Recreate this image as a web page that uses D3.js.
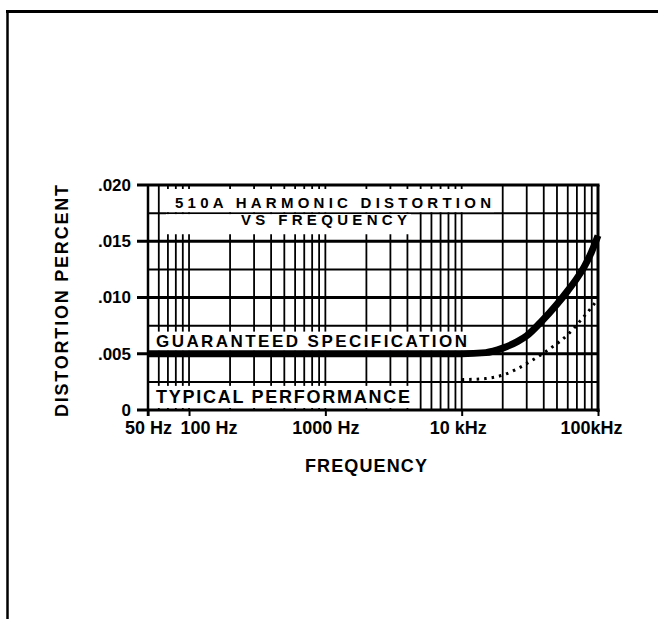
<!DOCTYPE html>
<html lang="en">
  <head>
    <meta charset="utf-8">
    <style>
      body { margin: 0; background: #fff; }
      text {
        font-family: "Liberation Sans", Arial, sans-serif;
        font-weight: bold;
        fill: #000;
      }
      .grid line { stroke: #000; }
    </style>
  </head>
  <body>
  </body>
  <script src="https://d3js.org/d3.v7.min.js"></script>

  <script>
  var width = 658;
  var height = 619;

  // values
  var freqTicks = [50, 100, 1000, 10000, 100000];
  var freqLabels = ["50 Hz", "100 Hz", "1000 Hz", "10 kHz", "100kHz"];
  var distTicks = [0, 0.005, 0.010, 0.015, 0.020];
  var distLabels = ["0", ".005", ".010", ".015", ".020"];

  var guaranteedFreq = [50, 1000, 10000, 15000, 20000, 25800, 30000, 38000, 50000, 60000, 70000, 79000, 90000, 100000];
  var guaranteedDist = [0.005, 0.005, 0.005, 0.0051, 0.0055, 0.0061, 0.0066, 0.0078, 0.0094, 0.0106, 0.0117, 0.0127, 0.0141, 0.0155];

  var typicalFreq = [10000, 15000, 20000, 25000, 30700, 45000, 60000, 75000, 92000, 100000];
  var typicalDist = [0.0027, 0.0028, 0.0031, 0.0036, 0.0042, 0.0055, 0.0067, 0.0080, 0.0093, 0.0099];

  var svg = d3.select("body")
    .append("svg")
    .attr("width", width)
    .attr("height", height);

  var x = d3.scaleLog().domain([50, 100000]).range([148, 598]);
  var y = d3.scaleLinear().domain([0, 0.020]).range([410, 185]);

  // page frame (scan border)
  svg.append("line").attr("x1", 6).attr("x2", width).attr("y1", 11.5).attr("y2", 11.5)
    .attr("stroke", "#000").attr("stroke-width", 3);
  svg.append("line").attr("x1", 7.5).attr("x2", 7.5).attr("y1", 10).attr("y2", height)
    .attr("stroke", "#000").attr("stroke-width", 2.5);

  var grid = svg.append("g").attr("class", "grid");

  // log grid: every 1..9 of each decade
  var minor = [];
  [10, 100, 1000, 10000].forEach(function(d) {
    for (var k = 1; k <= 9; k++) {
      var f = k * d;
      if (f > 50 && f < 100000) minor.push(f);
    }
  });
  grid.selectAll(".v")
    .data(minor)
    .enter().append("line")
    .attr("class", "v")
    .attr("x1", function(d) { return x(d); })
    .attr("x2", function(d) { return x(d); })
    .attr("y1", y(0.020))
    .attr("y2", y(0))
    .attr("stroke-width", 1.8);

  // horizontal grid: thin at the quarter steps, heavy at the labelled ones
  var hLines = d3.range(1, 8).map(function(i) { return i * 0.0025; });
  grid.selectAll(".h")
    .data(hLines)
    .enter().append("line")
    .attr("class", "h")
    .attr("x1", function(d, i) { return i % 2 ? 137 : 148; })
    .attr("x2", 598)
    .attr("y1", function(d) { return y(d); })
    .attr("y2", function(d) { return y(d); })
    .attr("stroke-width", function(d, i) { return i % 2 ? 3 : 2; });

  // frame of the plot
  grid.append("line").attr("x1", 137).attr("x2", 599.5).attr("y1", y(0.020)).attr("y2", y(0.020)).attr("stroke-width", 3);
  grid.append("line").attr("x1", 137).attr("x2", 599.5).attr("y1", y(0)).attr("y2", y(0)).attr("stroke-width", 3);
  grid.append("line").attr("x1", x(50)).attr("x2", x(50)).attr("y1", y(0.020)).attr("y2", y(0) + 6).attr("stroke-width", 2.5);
  grid.append("line").attr("x1", x(100000)).attr("x2", x(100000)).attr("y1", y(0.020)).attr("y2", y(0) + 2).attr("stroke-width", 3);

  // white boxes that blank the grid behind the in-plot captions
  var boxes = [
    { x0: 166, x1: 494, v0: 0.020, v1: 0.0175, t: 4, b: 1 },
    { x0: 166, x1: 411, v0: 0.0175, v1: 0.015, t: 1, b: 7 },
    { x0: 151, x1: 468, v0: 0.0075, v1: 0.005, t: 6, b: 3 },
    { x0: 151, x1: 411, v0: 0.0025, v1: 0, t: 4, b: 2 }
  ];
  svg.append("g").selectAll("rect")
    .data(boxes)
    .enter().append("rect")
    .attr("x", function(d) { return d.x0; })
    .attr("width", function(d) { return d.x1 - d.x0; })
    .attr("y", function(d) { return y(d.v0) + d.t; })
    .attr("height", function(d) { return y(d.v1) - y(d.v0) - d.t - d.b; })
    .attr("fill", "#fff");

  // axes (labels and ticks)
  var yAxis = d3.axisLeft(y)
    .tickValues(distTicks)
    .tickFormat(function(d, i) { return distLabels[i]; })
    .tickSize(0)
    .tickPadding(17);
  var gy = svg.append("g").attr("transform", "translate(148,0)").call(yAxis);
  gy.select(".domain").remove();
  gy.selectAll("text")
    .style("font-family", "'Liberation Sans', Arial, sans-serif")
    .style("font-weight", "bold")
    .style("font-size", "17px");

  var xAxis = d3.axisBottom(x)
    .tickValues(freqTicks)
    .tickFormat(function(d, i) { return freqLabels[i]; })
    .tickSize(6)
    .tickPadding(5);
  var gx = svg.append("g").attr("transform", "translate(0,410)").call(xAxis);
  gx.select(".domain").remove();
  gx.selectAll("line").attr("stroke", "#000").attr("stroke-width", 2);
  gx.selectAll("text")
    .style("font-family", "'Liberation Sans', Arial, sans-serif")
    .style("font-weight", "bold")
    .style("font-size", "18px")
    .attr("dy", "0.71em")
    .attr("text-anchor", function(d) { return d === 100 ? "start" : "middle"; })
    .attr("dx", function(d) { return d === 100 ? -9 : (d === 100000 ? -7 : (d === 10000 ? -4 : 0)); });

  // captions inside the plot
  var captions = [
    { text: "510A  HARMONIC  DISTORTION", x: 175, y: 207.5, len: 316, size: 15 },
    { text: "VS  FREQUENCY", x: 241, y: 225, len: 166, size: 15 },
    { text: "GUARANTEED  SPECIFICATION", x: 156, y: 347, len: 311, size: 17 },
    { text: "TYPICAL  PERFORMANCE", x: 156, y: 403, len: 254, size: 18 }
  ];
  svg.append("g").selectAll("text")
    .data(captions)
    .enter().append("text")
    .attr("x", function(d) { return d.x; })
    .attr("y", function(d) { return d.y; })
    .attr("textLength", function(d) { return d.len; })
    .attr("lengthAdjust", "spacing")
    .style("font-size", function(d) { return d.size + "px"; })
    .text(function(d) { return d.text; });

  // curves
  var line = d3.line()
    .x(function(d) { return x(d[0]); })
    .y(function(d) { return y(d[1]); })
    .curve(d3.curveMonotoneX);

  svg.append("path")
    .datum(d3.zip(guaranteedFreq, guaranteedDist))
    .attr("d", line)
    .attr("fill", "none")
    .attr("stroke", "#000")
    .attr("stroke-width", 7);

  svg.append("path")
    .datum(d3.zip(typicalFreq, typicalDist))
    .attr("d", line)
    .attr("fill", "none")
    .attr("stroke", "#000")
    .attr("stroke-width", 3)
    .attr("stroke-dasharray", "2.5 5");

  // axis titles
  svg.append("text")
    .attr("transform", "translate(68,301) rotate(-90)")
    .attr("text-anchor", "middle")
    .attr("textLength", 232)
    .attr("lengthAdjust", "spacing")
    .style("font-size", "18px")
    .text("DISTORTION  PERCENT");

  svg.append("text")
    .attr("x", 366)
    .attr("y", 472)
    .attr("text-anchor", "middle")
    .attr("textLength", 122)
    .attr("lengthAdjust", "spacing")
    .style("font-size", "18px")
    .text("FREQUENCY");
  </script>
</html>
